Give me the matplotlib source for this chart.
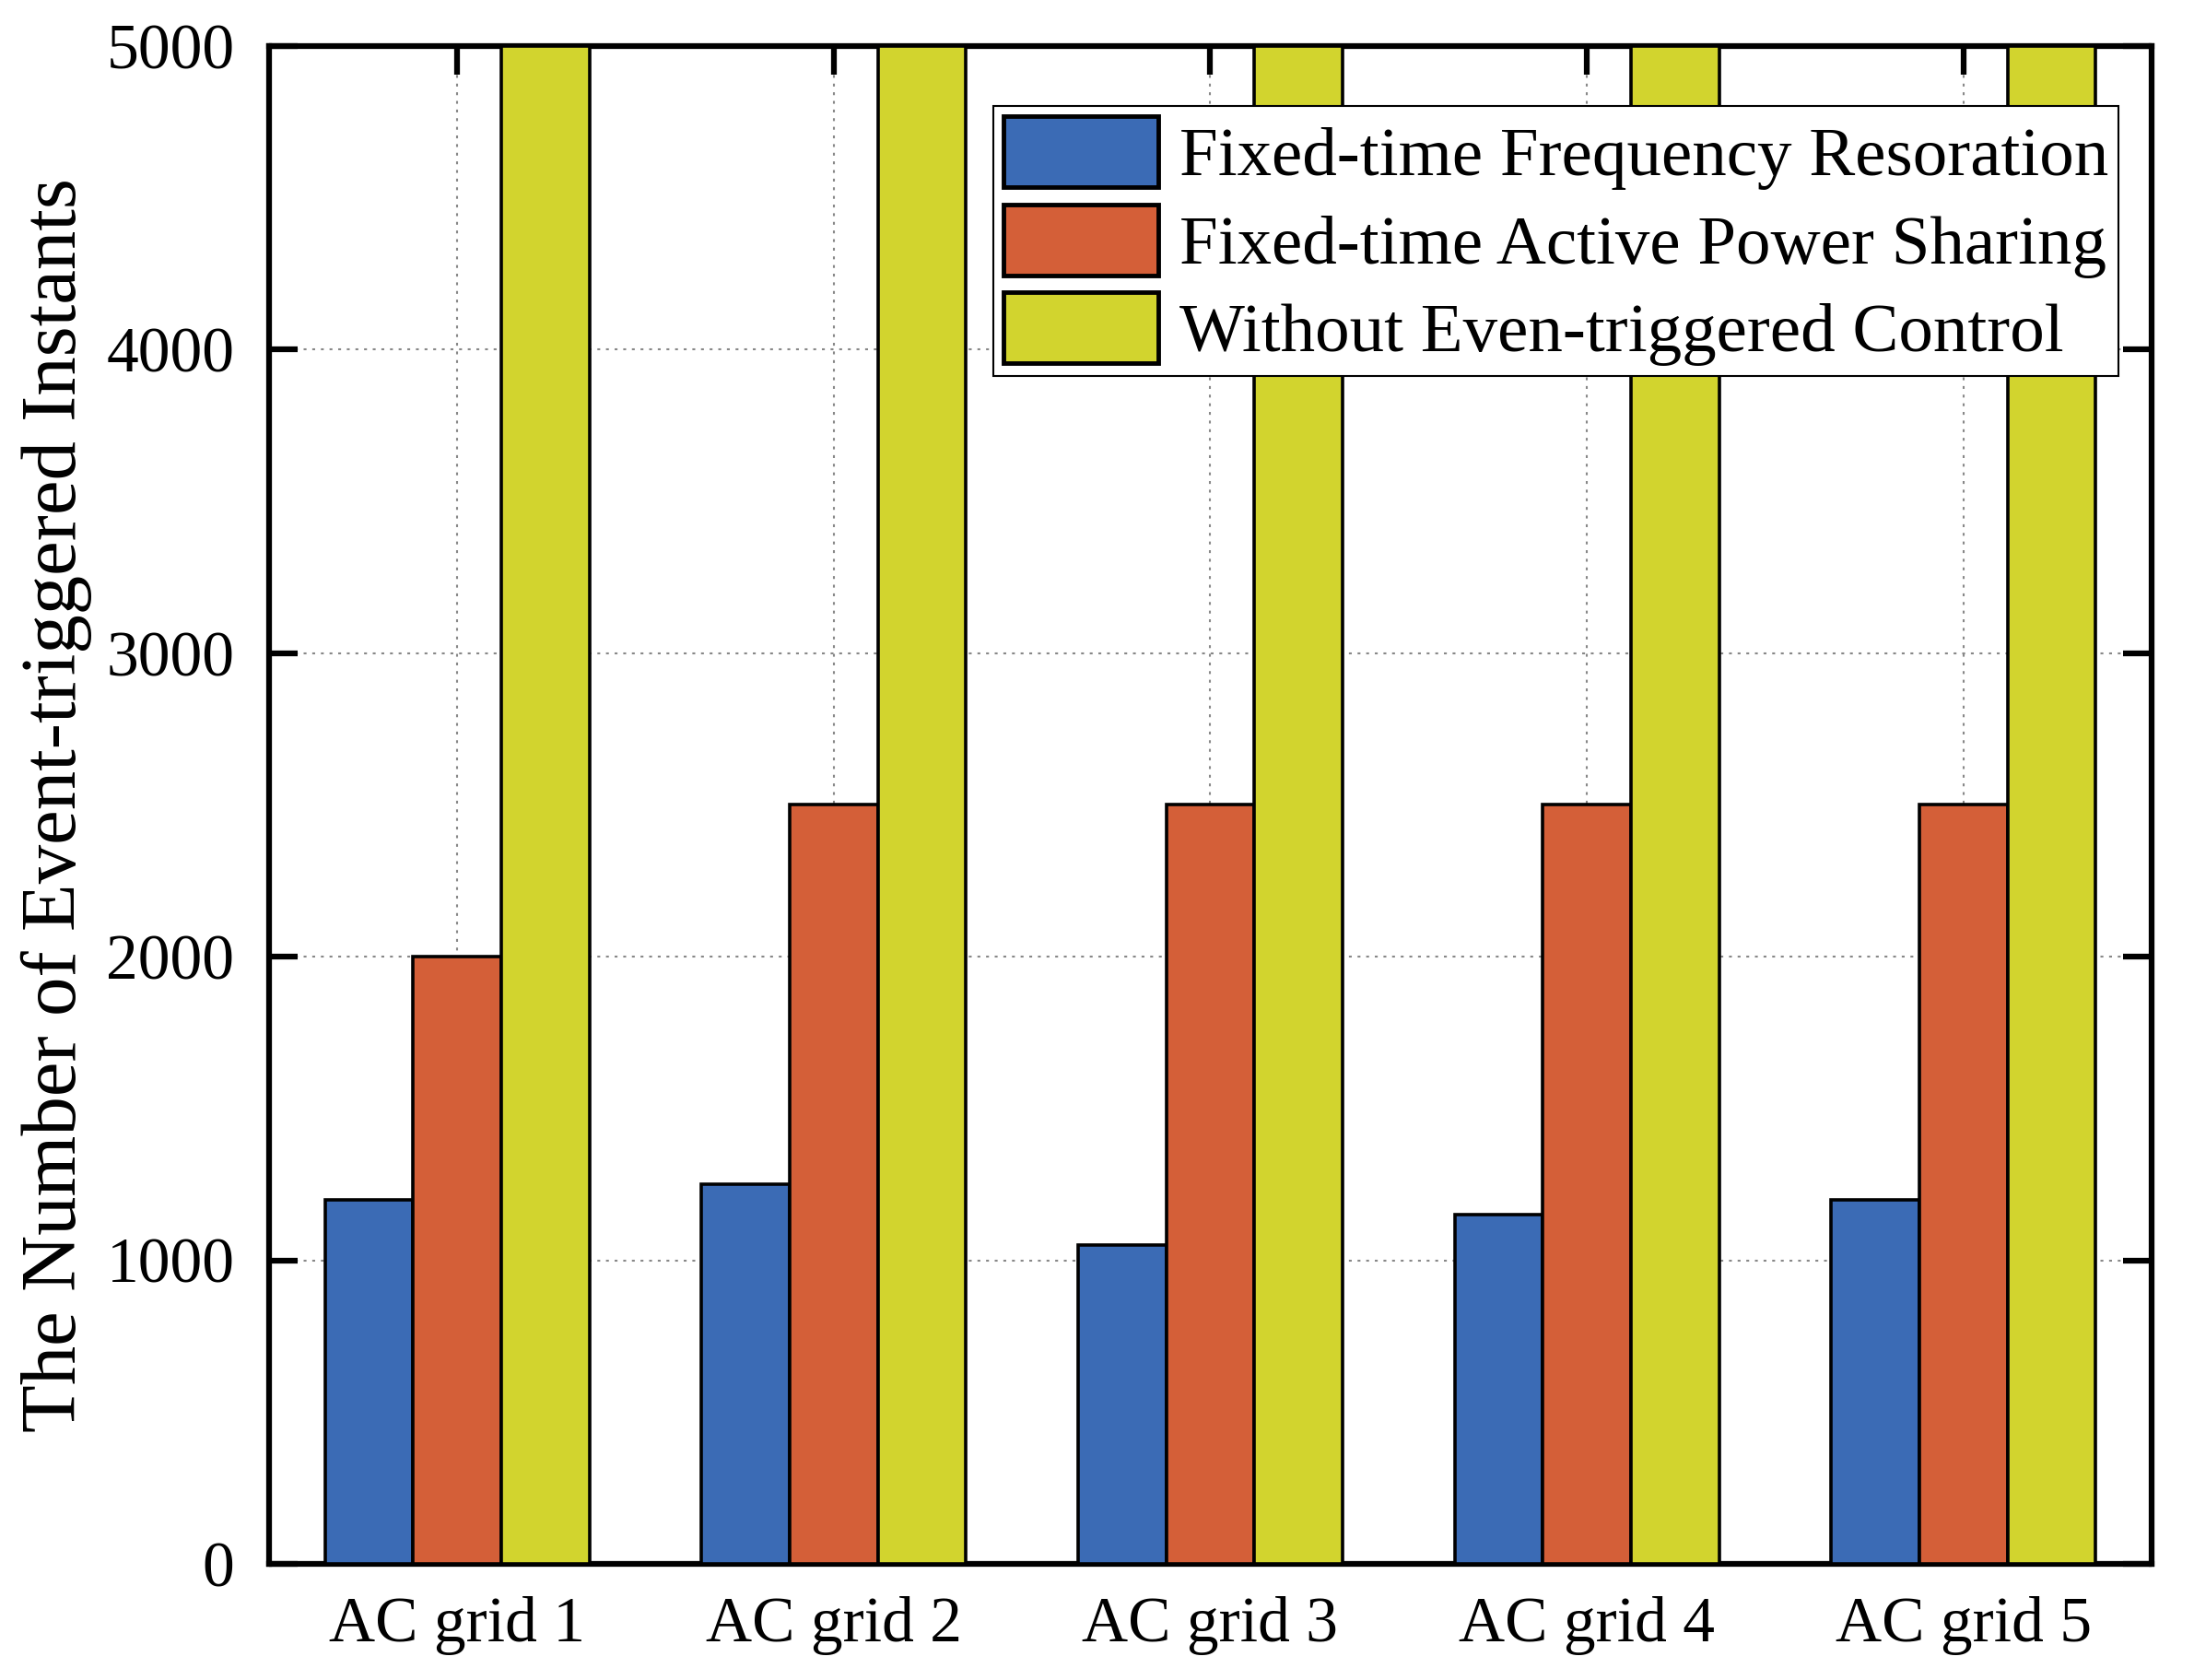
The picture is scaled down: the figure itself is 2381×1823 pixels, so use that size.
import matplotlib.pyplot as plt
import numpy as np

plt.rcParams['font.family'] = ['Liberation Serif', 'DejaVu Serif']

grids = ['AC grid 1', 'AC grid 2', 'AC grid 3', 'AC grid 4', 'AC grid 5']
freq_restoration = [1200, 1250, 1050, 1150, 1200]
power_sharing = [2000, 2500, 2500, 2500, 2500]
without_event = [5000, 5000, 5000, 5000, 5000]
labels = ['Fixed-time Frequency Resoration',
          'Fixed-time Active Power Sharing',
          'Without Even-triggered Control']
colors = ['#3B6BB5', '#D45F38', '#D2D42E']

x = np.arange(len(grids))
w = 0.234

fig = plt.figure(figsize=(23.81, 18.23), dpi=100)
ax = fig.add_axes([0.1226, 0.0691, 0.8581, 0.9035])

series = [freq_restoration, power_sharing, without_event]
for i, vals in enumerate(series):
    ax.bar(x + (i - 1) * w, vals, w, color=colors[i], edgecolor='black',
           linewidth=2.6, label=labels[i], zorder=3)

ax.set_xlim(-0.5, 4.5)
ax.set_ylim(0, 5000)
ax.set_xticks(x)
ax.set_xticklabels(grids)
ax.set_yticks([0, 1000, 2000, 3000, 4000, 5000])

ax.grid(True, linestyle=(0, (1.5, 3)), color='#888888', linewidth=1.5, zorder=0)
ax.tick_params(direction='in', length=22, width=4.5, labelsize=50,
               top=True, right=True)
ax.tick_params(axis='x', pad=25)
ax.tick_params(axis='y', pad=27)
for s in ax.spines.values():
    s.set_linewidth(4.5)

ax.set_ylabel('The Number of Event-triggered Instants', fontsize=61)
ax.yaxis.set_label_coords(-0.094, 0.5)

leg = ax.legend(loc='upper right', bbox_to_anchor=(0.9824, 0.9605), fontsize=54,
                fancybox=False, edgecolor='black', framealpha=1,
                handlelength=2.24, handleheight=1.2, handletextpad=0.3,
                borderpad=0.15, labelspacing=0.21, borderaxespad=0)
leg.get_frame().set_linewidth(1.5)
for p in leg.get_patches():
    p.set_linewidth(3.5)

fig.savefig('out.png', dpi=100)
